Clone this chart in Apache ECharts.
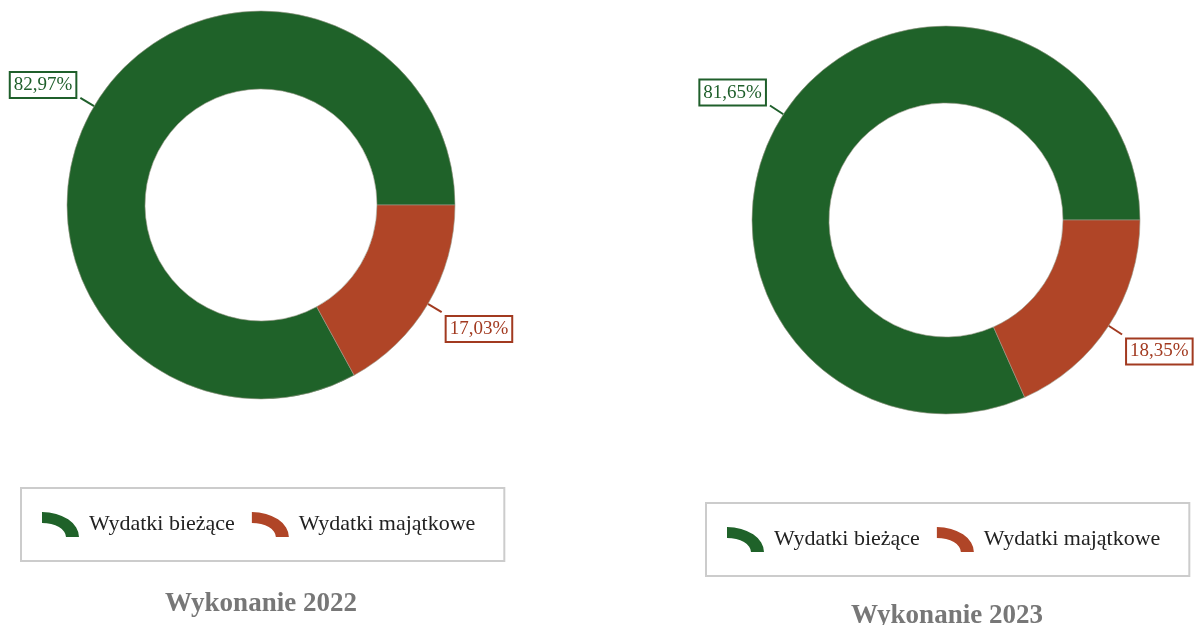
<!DOCTYPE html>
<html>
<head>
    <meta charset="utf-8">
    <title>Wykonanie wydatków</title>
    <script src="https://cdn.jsdelivr.net/npm/echarts@6/dist/echarts.min.js"></script>
    <style>
        html, body { margin: 0; padding: 0; background: #fff; }
        #main { width: 1194px; height: 625px; }
    </style>
</head>
<body>
<div id="main"></div>
<script type="text/javascript">
    // dane
    var categories = ['Wydatki bieżące', 'Wydatki majątkowe'];
    var values2022 = [82.97, 17.03];
    var values2023 = [81.65, 18.35];
    var titles = ['Wykonanie 2022', 'Wykonanie 2023'];

    var colors = ['#1f6229', '#b04527'];
    var labelColors = ['#1f5f2b', '#a23a20'];
    var font = '"Liberation Serif", "Times New Roman", serif';
    var arcIcon = 'path://M0 0 A37 25 0 0 1 37 25 L24 25 A24 14 0 0 0 0 11 Z';

    var myChart = echarts.init(document.getElementById('main'));

    var toData = function (vals) {
        return vals.map(function (v, i) {
            return {
                name: categories[i],
                value: v,
                label: {
                    color: labelColors[i],
                    borderColor: labelColors[i]
                },
                labelLine: { lineStyle: { color: labelColors[i] } }
            };
        });
    };

    var pieSeries = function (vals, center, radius) {
        return {
            type: 'pie',
            center: center,
            radius: radius,
            startAngle: 0,
            clockwise: false,
            avoidLabelOverlap: false,
            animation: false,
            data: toData(vals),
            itemStyle: {
                borderColor: '#9a9a8a',
                borderWidth: 0.6
            },
            label: {
                show: true,
                position: 'outside',
                fontFamily: font,
                fontSize: 19,
                backgroundColor: '#fff',
                borderWidth: 2,
                padding: [3, 3, 2, 3],
                formatter: function (p) {
                    return p.value.toFixed(2).replace('.', ',') + '%';
                }
            },
            labelLine: {
                show: true,
                length: 16,
                length2: 0,
                lineStyle: { width: 2 }
            },
            labelLayout: function (p) {
                return { dy: p.dataIndex === 0 ? -13 : 17 };
            },
            emphasis: { disabled: true }
        };
    };

    var legendBox = function (left, top) {
        return {
            left: left,
            top: top,
            orient: 'horizontal',
            data: categories,
            icon: arcIcon,
            itemWidth: 37,
            itemHeight: 25,
            itemGap: 17,
            padding: [24, 29, 24, 21],
            borderColor: '#cccccc',
            borderWidth: 2,
            selectedMode: false,
            itemStyle: { borderWidth: 0 },
            textStyle: {
                fontFamily: font,
                fontSize: 22,
                color: '#222',
                padding: [0, 0, 0, 5]
            }
        };
    };

    var option = {
        color: colors,
        title: [
            {
                text: titles[0],
                left: 256,
                top: 586,
                textAlign: 'center',
                textStyle: { fontFamily: font, fontSize: 27, fontWeight: 'bold', color: '#777' }
            },
            {
                text: titles[1],
                left: 942,
                top: 598,
                textAlign: 'center',
                textStyle: { fontFamily: font, fontSize: 27, fontWeight: 'bold', color: '#777' }
            }
        ],
        legend: [legendBox(21, 488), legendBox(706, 503)],
        series: [
            pieSeries(values2022, [261, 205], [116, 194]),
            pieSeries(values2023, [946, 220], [117, 194])
        ]
    };
    myChart.setOption(option);

    window.onresize = myChart.resize;
</script>
</body>
</html>
